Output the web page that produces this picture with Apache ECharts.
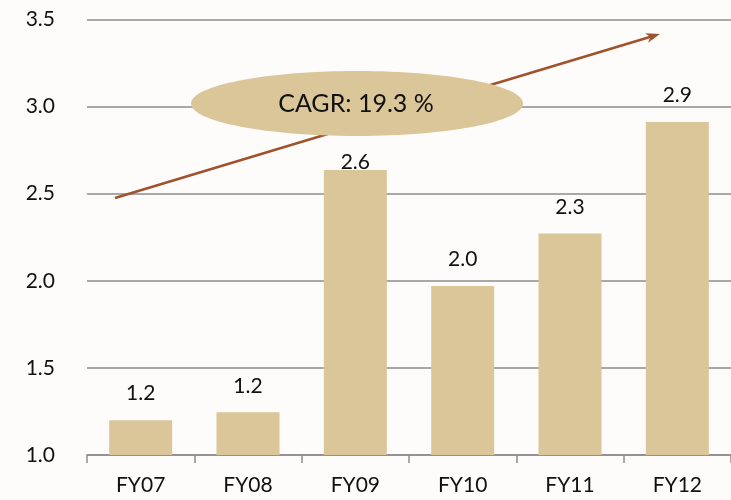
<!DOCTYPE html>
<html>
<head>
<meta charset="utf-8">
<script src="https://cdn.jsdelivr.net/npm/echarts@6/dist/echarts.min.js"></script>
<style>
  html, body { margin: 0; padding: 0; background: #fdfcfa; }
  #chart { width: 731px; height: 500px; }
</style>
</head>
<body>
<div id="chart"></div>
<script>
// data
var categories = ['FY07', 'FY08', 'FY09', 'FY10', 'FY11', 'FY12'];
var revenue = [1.2, 1.245, 2.636, 1.97, 2.272, 2.912];
var yTicks = [1.0, 1.5, 2.0, 2.5, 3.0, 3.5];
var cagrText = 'CAGR: 19.3 %';

var font = 'Lato, "Open Sans", sans-serif';
var barColor = '#dac698';
var arrowColor = '#a0522d';

var chart = echarts.init(document.getElementById('chart'));

// arrow in pixels (annotation only)
var a0 = [115, 198], a1 = [660, 34];
var dx = a1[0] - a0[0], dy = a1[1] - a0[1];
var len = Math.sqrt(dx * dx + dy * dy);
var ux = dx / len, uy = dy / len;
var bx = a1[0] - 14 * ux, by = a1[1] - 14 * uy;
var head = [
  [a1[0], a1[1]],
  [bx - 5 * uy, by + 5 * ux],
  [a1[0] - 10 * ux, a1[1] - 10 * uy],
  [bx + 5 * uy, by - 5 * ux]
];

var option = {
  backgroundColor: '#fdfcfa',
  animation: false,
  grid: { left: 87, right: -3, top: 19.5, bottom: 45 },
  xAxis: {
    type: 'category',
    data: categories,
    axisLine: { lineStyle: { color: '#8c8c8c', width: 1.5 } },
    axisTick: { show: true, length: 8, lineStyle: { color: '#8c8c8c', width: 1.5 } },
    axisLabel: { color: '#111', fontSize: 21, fontFamily: font, margin: 20 }
  },
  yAxis: {
    type: 'value',
    min: yTicks[0],
    max: yTicks[yTicks.length - 1],
    interval: 0.5,
    axisLine: { show: false },
    axisTick: { show: false },
    splitLine: { lineStyle: { color: '#8c8c8c', width: 1.5 } },
    axisLabel: {
      color: '#111', fontSize: 21, fontFamily: font, margin: 32,
      formatter: function (v) { return v.toFixed(1); }
    }
  },
  series: [{
    type: 'bar',
    barWidth: 63,
    itemStyle: { color: barColor },
    label: {
      show: true,
      position: 'top',
      distance: 16,
      color: '#111',
      fontSize: 21,
      fontFamily: font,
      formatter: function (p) { return p.value.toFixed(1); }
    },
    data: revenue.map(function (v, i) {
      // FY09 label sits right on the bar in the original
      return i === 2 ? { value: v, label: { distance: -3 } } : v;
    })
  }],
  graphic: [
    {
      type: 'line', z: 10,
      shape: { x1: a0[0], y1: a0[1], x2: a1[0] - 8 * ux, y2: a1[1] - 8 * uy },
      style: { stroke: arrowColor, lineWidth: 2.5 }
    },
    {
      type: 'polygon', z: 10,
      shape: { points: head },
      style: { fill: arrowColor }
    },
    {
      type: 'ellipse', z: 11,
      shape: { cx: 357, cy: 103.5, rx: 166, ry: 32.5 },
      style: { fill: barColor }
    },
    {
      type: 'text', z: 12,
      x: 356, y: 104,
      style: {
        text: cagrText,
        fill: '#111',
        font: '25px ' + font,
        align: 'center',
        verticalAlign: 'middle'
      }
    }
  ]
};

chart.setOption(option);
</script>
</body>
</html>
